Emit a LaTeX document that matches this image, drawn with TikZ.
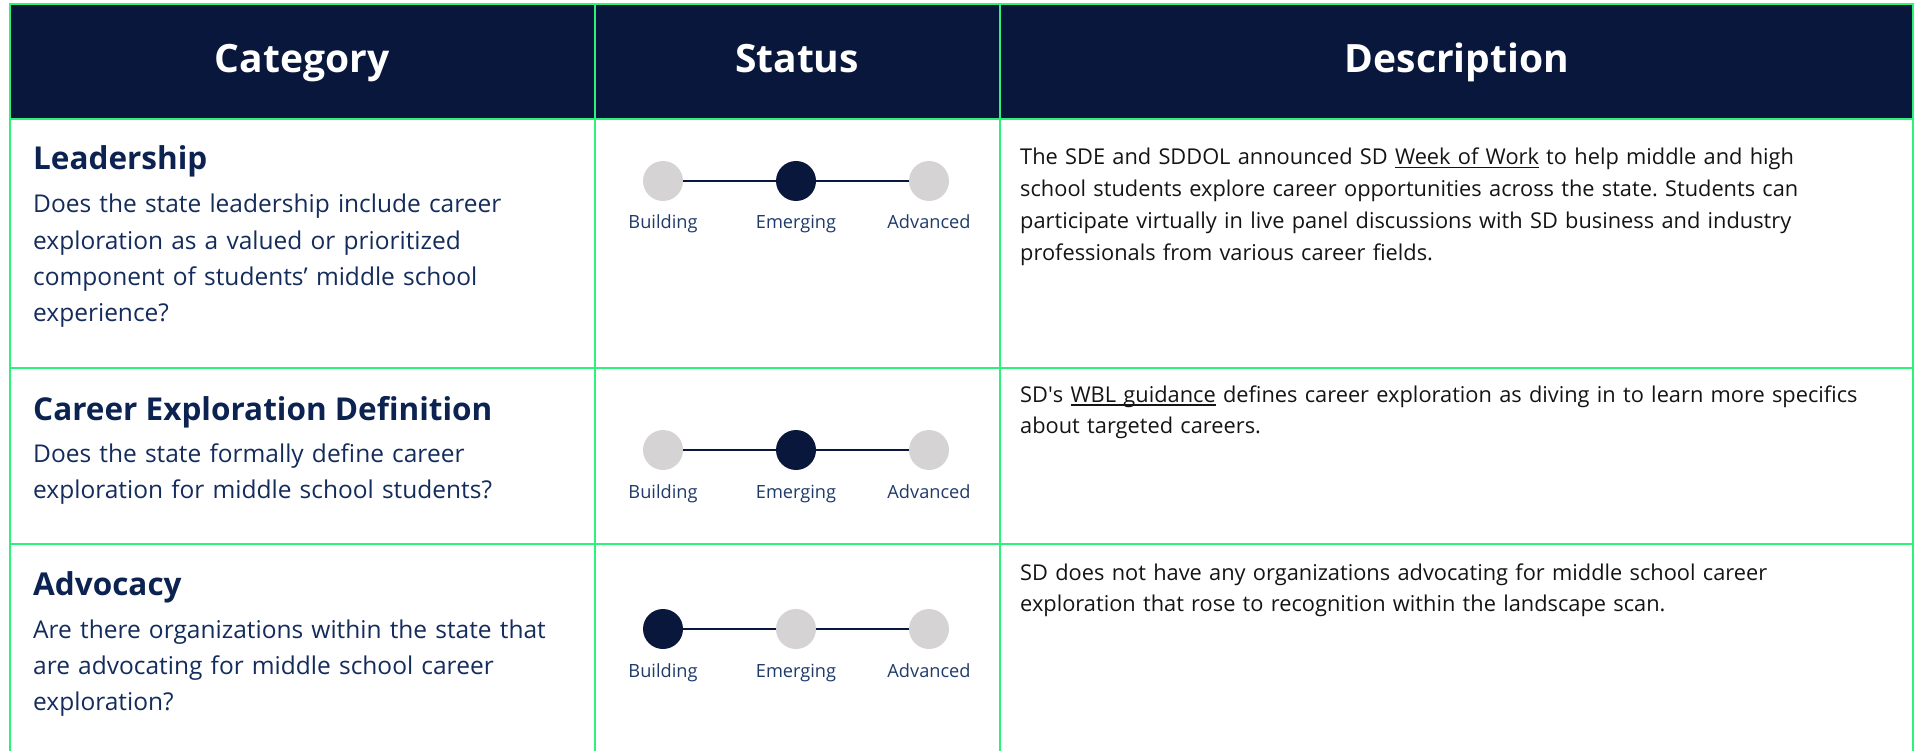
\documentclass[tikz,border=0pt]{standalone}
\usepackage{fontspec}
\setmainfont{Open Sans}
\usetikzlibrary{positioning}
\definecolor{sdnavy}{HTML}{0A173C}
\definecolor{sdgreen}{HTML}{2CF27C}
\definecolor{sdgray}{HTML}{D6D3D4}
\definecolor{sdtitle}{HTML}{0C2352}
\definecolor{sdtext}{HTML}{142C5C}
\definecolor{sdlabel}{HTML}{1E3A6A}
\definecolor{sdblack}{HTML}{141414}
\newcommand\sdlink[1]{\setbox0\hbox{#1}\rlap{\rule[-3.5pt]{\wd0}{1.4pt}}\box0\relax}
\frenchspacing

\begin{document}
\begin{tikzpicture}[
  x=1pt, y=-1pt,
  head/.style={font=\fontsize{39}{44}\selectfont\bfseries, text=white, anchor=base, inner sep=0},
  cattitle/.style={font=\fontsize{31.5}{36}\selectfont\bfseries, text=sdtitle, anchor=base west, inner sep=0},
  question/.style={font=\fontsize{24.5}{36.2}\selectfont, text=sdtext, anchor=base west, inner sep=0, text width=555pt, align=left},
  descr/.style={font=\fontsize{21.8}{31.8}\selectfont, text=sdblack, anchor=base west, inner sep=0, text width=885pt, align=left},
  stage/.style={circle, fill=#1, minimum size=40pt, inner sep=0},
  stagelabel/.style={font=\fontsize{18.2}{20}\selectfont, text=sdlabel, anchor=base, inner sep=0},
  track/.style={draw=sdnavy, line width=2pt},
  cellline/.style={draw=sdgreen, line width=2pt}
]
  \useasboundingbox (0,0) rectangle (1917,751);

  % header band and table lines
  \fill[sdnavy] (10,4) rectangle (1913,119);
  \draw[cellline] (10,751) -- (10,4) -- (1913,4) -- (1913,751);
  \draw[cellline] (10,119) -- (1913,119);
  \draw[cellline] (10,368) -- (1913,368);
  \draw[cellline] (10,544) -- (1913,544);
  \draw[cellline] (595,4) -- (595,751);
  \draw[cellline] (1000,4) -- (1000,751);

  \node[head] (hcat) at (302,73) {Category};
  \node[head] (hstat) at (797,73) {Status};
  \node[head] (hdesc) at (1457,73) {Description};

  % Leadership
  \node[cattitle] (lead) at (33,170) {Leadership};
  \node[question] (leadq) at (33,213) {Does the state leadership include career\\exploration as a valued or prioritized\\component of students’ middle school\\experience?};
  \node[stage=sdgray] (b1) at (663,181) {};
  \node[stage=sdnavy] (e1) at (796,181) {};
  \node[stage=sdgray] (a1) at (929,181) {};
  \draw[track] (b1) -- (e1) (e1) -- (a1);
  \node[stagelabel] (b1t) at (663,229) {Building};
  \node[stagelabel] (e1t) at (796,229) {Emerging};
  \node[stagelabel] (a1t) at (929,229) {Advanced};
  \node[descr] (leadd) at (1020,165) {The SDE and SDDOL announced SD \sdlink{Week of Work} to help middle and high\\school students explore career opportunities across the state. Students can\\participate virtually in live panel discussions with SD business and industry\\professionals from various career fields.};

  % Career Exploration Definition
  \node[cattitle] (defn) at (33,420) {Career Exploration Definition};
  \node[question] (defnq) at (33,462) {Does the state formally define career\\exploration for middle school students?};
  \node[stage=sdgray] (b2) at (663,450) {};
  \node[stage=sdnavy] (e2) at (796,450) {};
  \node[stage=sdgray] (a2) at (929,450) {};
  \draw[track] (b2) -- (e2) (e2) -- (a2);
  \node[stagelabel] (b2t) at (663,498) {Building};
  \node[stagelabel] (e2t) at (796,498) {Emerging};
  \node[stagelabel] (a2t) at (929,498) {Advanced};
  \node[descr] (defnd) at (1020,402) {SD\textquotesingle s \sdlink{WBL guidance} defines career exploration as diving in to learn more specifics\\about targeted careers.};

  % Advocacy
  \node[cattitle] (advo) at (33,595) {Advocacy};
  \node[question] (advoq) at (33,638) {Are there organizations within the state that\\are advocating for middle school career\\exploration?};
  \node[stage=sdnavy] (b3) at (663,629) {};
  \node[stage=sdgray] (e3) at (796,629) {};
  \node[stage=sdgray] (a3) at (929,629) {};
  \draw[track] (b3) -- (e3) (e3) -- (a3);
  \node[stagelabel] (b3t) at (663,677) {Building};
  \node[stagelabel] (e3t) at (796,677) {Emerging};
  \node[stagelabel] (a3t) at (929,677) {Advanced};
  \node[descr] (advod) at (1020,580) {SD does not have any organizations advocating for middle school career\\exploration that rose to recognition within the landscape scan.};
\end{tikzpicture}
\end{document}
